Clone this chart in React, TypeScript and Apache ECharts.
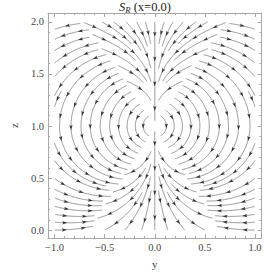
import React, { useEffect, useRef } from "react";
import * as echarts from "echarts";

// ---------- axes ----------
const Y_MIN = -1.065;
const Y_MAX = 1.065;
const Z_MIN = -0.075;
const Z_MAX = 2.085;
const MAJOR_Y = [-1, -0.5, 0, 0.5, 1];
const MAJOR_Z = [0, 0.5, 1, 1.5, 2];
const MINOR_Y = [-1, -0.9, -0.8, -0.7, -0.6, -0.5, -0.4, -0.3, -0.2, -0.1, 0, 0.1, 0.2, 0.3, 0.4, 0.5, 0.6, 0.7, 0.8, 0.9, 1];
const MINOR_Z = [0, 0.1, 0.2, 0.3, 0.4, 0.5, 0.6, 0.7, 0.8, 0.9, 1, 1.1, 1.2, 1.3, 1.4, 1.5, 1.6, 1.7, 1.8, 1.9, 2];
const Y_LABELS = ["\u22121.0", "\u22120.5", "0.0", "0.5", "1.0"];
const Z_LABELS = ["0.0", "0.5", "1.0", "1.5", "2.0"];

// ---------- stream field description ----------
const FIELD_Y = [0, 1]; // traced on the right half, mirrored to the left
const FIELD_Z = [0, 2];
const CORE = [0, 1]; // (y, z) point the streams wrap around
const CORE_RADIUS = 0.05;
const SEAM_TOP_DEG = 35.3; // seam between funnel and loops (angle from +z)
const SEAM_BOTTOM_DEG = 147; // seam between loops and bottom fan
const FUNNEL_PULL = 2.6;
const FUNNEL_EDGE = 0.55;
const DRIFT_UP = 0.6; // outward drift of loops in the upper half
const DRIFT_DOWN = 1.0; // inward drift of loops in the lower half
const FAN_SPREAD = 1.6;
const SEEDS = [
  [0.45, 1.0],
  [0.2, 1.9],
  [0.6, 1.95],
  [0.15, 0.4],
  [0.85, 0.2],
  [0.95, 1.0],
];
const SPACING = 0.074;
const TEST_FRAC = 0.5;
const STEP = 0.005;
const ARROW_GAP = 0.23;

const GRID = { left: 29, top: 13, width: 234, height: 234 };
const FONT = "Liberation Serif, Times New Roman, serif";
const FRAME = "#a8a8a8";
const TEXT = "#444";

const PHI0 = (SEAM_TOP_DEG * Math.PI) / 180;
const PHI1 = (SEAM_BOTTOM_DEG * Math.PI) / 180;

function fieldDir(y: number, z: number): [number, number] | null {
  const s = y < 0 ? -1 : 1;
  const u = Math.abs(y);
  const w = z - CORE[1];
  const r = Math.hypot(u, w);
  if (r < CORE_RADIUS) return null;
  if (u < 1e-7) return [0, -1];
  const phi = Math.atan2(u, w);
  let vr: number, vp: number;
  if (phi < PHI0) {
    vr = -1;
    vp = -FUNNEL_PULL * Math.sin(phi) * (1 - FUNNEL_EDGE * (phi / PHI0));
  } else if (phi < PHI1) {
    const c = Math.cos(phi);
    vr = (c > 0 ? DRIFT_UP : DRIFT_DOWN) * r * c;
    vp = 1;
  } else {
    vr = 1;
    vp = -FAN_SPREAD * (Math.PI - phi);
  }
  const vu = vr * Math.sin(phi) + vp * Math.cos(phi);
  const vw = vr * Math.cos(phi) - vp * Math.sin(phi);
  const n = Math.hypot(vu, vw) || 1;
  return [(s * vu) / n, vw / n];
}

class PGrid {
  cell: number;
  map = new Map<string, number[][]>();
  constructor(cell: number) {
    this.cell = cell;
  }
  key(i: number, j: number) {
    return i + ":" + j;
  }
  add(p: number[]) {
    const i = Math.floor(p[0] / this.cell), j = Math.floor(p[1] / this.cell);
    const k = this.key(i, j);
    if (!this.map.has(k)) this.map.set(k, []);
    this.map.get(k)!.push(p);
  }
  near(p: number[], d: number) {
    const i = Math.floor(p[0] / this.cell), j = Math.floor(p[1] / this.cell);
    const d2 = d * d;
    for (let a = -1; a <= 1; a++)
      for (let b = -1; b <= 1; b++) {
        const arr = this.map.get(this.key(i + a, j + b));
        if (!arr) continue;
        for (const q of arr) {
          const dx = q[0] - p[0], dy = q[1] - p[1];
          if (dx * dx + dy * dy < d2) return true;
        }
      }
    return false;
  }
}

function inField(p: number[]) {
  return p[0] >= FIELD_Y[0] && p[0] <= FIELD_Y[1] && p[1] >= FIELD_Z[0] && p[1] <= FIELD_Z[1];
}

function trace(seed: number[], dir: number, grid: PGrid) {
  const pts: number[][] = [seed];
  let p = seed;
  let prev: number[] | null = null;
  for (let i = 0; i < 1200; i++) {
    const v1 = fieldDir(p[0], p[1]);
    if (!v1) break;
    const m = [p[0] + (dir * STEP * v1[0]) / 2, p[1] + (dir * STEP * v1[1]) / 2];
    const v2 = fieldDir(m[0], m[1]);
    if (!v2) break;
    if (prev && v2[0] * prev[0] + v2[1] * prev[1] < 0.6) break;
    const np = [p[0] + dir * STEP * v2[0], p[1] + dir * STEP * v2[1]];
    if (!inField(np)) break;
    if (grid.near(np, SPACING * TEST_FRAC)) break;
    pts.push(np);
    prev = v2;
    p = np;
  }
  return pts;
}

function lengthOf(line: number[][]) {
  let L = 0;
  for (let i = 1; i < line.length; i++) L += Math.hypot(line[i][0] - line[i - 1][0], line[i][1] - line[i - 1][1]);
  return L;
}

function buildStreams() {
  const grid = new PGrid(SPACING);
  const lines: number[][][] = [];
  const axisTop: number[][] = [];
  for (let z = FIELD_Z[1]; z >= CORE[1] + CORE_RADIUS; z -= STEP) axisTop.push([0, z]);
  const axisBottom: number[][] = [];
  for (let z = CORE[1] - CORE_RADIUS; z >= FIELD_Z[0]; z -= STEP) axisBottom.push([0, z]);
  axisTop.forEach((p) => grid.add(p));
  axisBottom.forEach((p) => grid.add(p));

  const queue: number[][] = SEEDS.map((s) => [s[0], s[1]]);
  const half: number[][][] = [];
  while (queue.length) {
    const seed = queue.shift()!;
    if (!inField(seed) || !fieldDir(seed[0], seed[1])) continue;
    if (grid.near(seed, SPACING * 0.95)) continue;
    const back = trace(seed, -1, grid).reverse();
    const fwd = trace(seed, 1, grid);
    const line = back.concat(fwd.slice(1));
    if (lengthOf(line) < 0.05) continue;
    line.forEach((p) => grid.add(p));
    half.push(line);
    for (let i = 4; i < line.length - 1; i += 6) {
      const a = line[i - 1], b = line[i + 1];
      const dx = b[0] - a[0], dz = b[1] - a[1];
      const n = Math.hypot(dx, dz) || 1;
      const nx = -dz / n, nz = dx / n;
      queue.push([line[i][0] + nx * SPACING, line[i][1] + nz * SPACING]);
      queue.push([line[i][0] - nx * SPACING, line[i][1] - nz * SPACING]);
    }
  }
  lines.push(axisTop, axisBottom);
  for (const l of half) {
    lines.push(l);
    lines.push(l.map((p) => [-p[0], p[1]]));
  }
  return lines;
}

function arrowsFor(lines: number[][][]) {
  const PX_Y = GRID.width / (Y_MAX - Y_MIN);
  const PX_Z = GRID.height / (Z_MAX - Z_MIN);
  const out: any[] = [];
  for (const line of lines) {
    const L = lengthOf(line);
    if (L < 0.03) continue;
    const n = Math.max(1, Math.round(L / ARROW_GAP));
    const targets: number[] = [];
    for (let i = 0; i < n; i++) targets.push(((i + 0.5) * L) / n);
    let acc = 0, t = 0;
    for (let i = 1; i < line.length && t < targets.length; i++) {
      const seg = Math.hypot(line[i][0] - line[i - 1][0], line[i][1] - line[i - 1][1]);
      while (t < targets.length && acc + seg >= targets[t]) {
        const f = seg > 0 ? (targets[t] - acc) / seg : 0;
        const y = line[i - 1][0] + f * (line[i][0] - line[i - 1][0]);
        const z = line[i - 1][1] + f * (line[i][1] - line[i - 1][1]);
        const ang = (Math.atan2((line[i][1] - line[i - 1][1]) * PX_Z, (line[i][0] - line[i - 1][0]) * PX_Y) * 180) / Math.PI;
        out.push({ value: [y, z], symbolRotate: ang - 90 });
        t++;
      }
      acc += seg;
    }
  }
  return out;
}

function labelFor(values: number[], labels: string[]) {
  return (v: number) => {
    for (let i = 0; i < values.length; i++) if (Math.abs(values[i] - v) < 1e-6) return labels[i];
    return "";
  };
}

function xAxis(position: "bottom" | "top", ticks: number[], len: number, withLabels: boolean, withLine: boolean, name?: string) {
  return {
    type: "value",
    gridIndex: 0,
    position,
    min: Y_MIN,
    max: Y_MAX,
    name: name || "",
    nameLocation: "middle",
    nameGap: 12,
    nameTextStyle: { fontFamily: FONT, fontSize: 11, color: TEXT, verticalAlign: "top" },
    axisLine: { show: withLine, onZero: false, lineStyle: { color: FRAME, width: 1 } },
    axisTick: { show: true, inside: true, length: len, customValues: ticks, lineStyle: { color: FRAME, width: 1 } },
    axisLabel: {
      show: withLabels,
      customValues: MAJOR_Y,
      formatter: labelFor(MAJOR_Y, Y_LABELS),
      fontFamily: FONT,
      fontSize: 10.5,
      color: TEXT,
      margin: 4,
    },
    splitLine: { show: false },
  };
}

function yAxis(position: "left" | "right", ticks: number[], len: number, withLabels: boolean, withLine: boolean, name?: string) {
  return {
    type: "value",
    gridIndex: 0,
    position,
    min: Z_MIN,
    max: Z_MAX,
    name: name || "",
    nameLocation: "middle",
    nameGap: 29,
    nameRotate: 90,
    nameTextStyle: { fontFamily: FONT, fontSize: 11, color: TEXT },
    axisLine: { show: withLine, onZero: false, lineStyle: { color: FRAME, width: 1 } },
    axisTick: { show: true, inside: true, length: len, customValues: ticks, lineStyle: { color: FRAME, width: 1 } },
    axisLabel: {
      show: withLabels,
      customValues: MAJOR_Z,
      formatter: labelFor(MAJOR_Z, Z_LABELS),
      fontFamily: FONT,
      fontSize: 10.5,
      color: TEXT,
      margin: 4,
    },
    splitLine: { show: false },
  };
}

function buildOption() {
  const lines = buildStreams();
  const arrows = arrowsFor(lines);
  return {
    animation: false,
    backgroundColor: "#fff",
    grid: { ...GRID, containLabel: false },
    graphic: [
      {
        type: "text",
        x: 145,
        y: 7,
        style: {
          text: "{s|S}{r|R}{t| (x=0.0)}",
          align: "center",
          verticalAlign: "middle",
          rich: {
            s: { fontFamily: FONT, fontSize: 12.5, fontStyle: "italic", fill: "#222", lineHeight: 14, verticalAlign: "middle" },
            r: { fontFamily: FONT, fontSize: 8.5, fontStyle: "italic", fill: "#222", lineHeight: 14, verticalAlign: "bottom" },
            t: { fontFamily: FONT, fontSize: 12.5, fill: "#222", lineHeight: 14, verticalAlign: "middle" },
          },
        },
      },
    ],
    xAxis: [
      xAxis("bottom", MAJOR_Y, 4, true, true, "y"),
      xAxis("bottom", MINOR_Y, 2, false, false),
      xAxis("top", MAJOR_Y, 4, false, true),
      xAxis("top", MINOR_Y, 2, false, false),
    ],
    yAxis: [
      yAxis("left", MAJOR_Z, 4, true, true, "z"),
      yAxis("left", MINOR_Z, 2, false, false),
      yAxis("right", MAJOR_Z, 4, false, true),
      yAxis("right", MINOR_Z, 2, false, false),
    ],
    series: [
      {
        type: "lines",
        coordinateSystem: "cartesian2d",
        xAxisIndex: 0,
        yAxisIndex: 0,
        polyline: true,
        silent: true,
        data: lines.map((c) => ({ coords: c })),
        lineStyle: { color: "#666666", width: 0.7, opacity: 1 },
      },
      {
        type: "scatter",
        xAxisIndex: 0,
        yAxisIndex: 0,
        silent: true,
        symbol: "path://M0,0 L4,10 L0,8 L-4,10 Z",
        symbolSize: [3.4, 5],
        itemStyle: { color: "#111" },
        data: arrows,
      },
    ],
  };
}

export default function App() {
  const ref = useRef<HTMLDivElement>(null);
  useEffect(() => {
    const chart = echarts.init(ref.current!, null, { renderer: "svg" });
    chart.setOption(buildOption() as any);
    return () => chart.dispose();
  }, []);
  return <div ref={ref} style={{ position: "absolute", left: 0, top: 0, width: 264, height: 274 }} />;
}
